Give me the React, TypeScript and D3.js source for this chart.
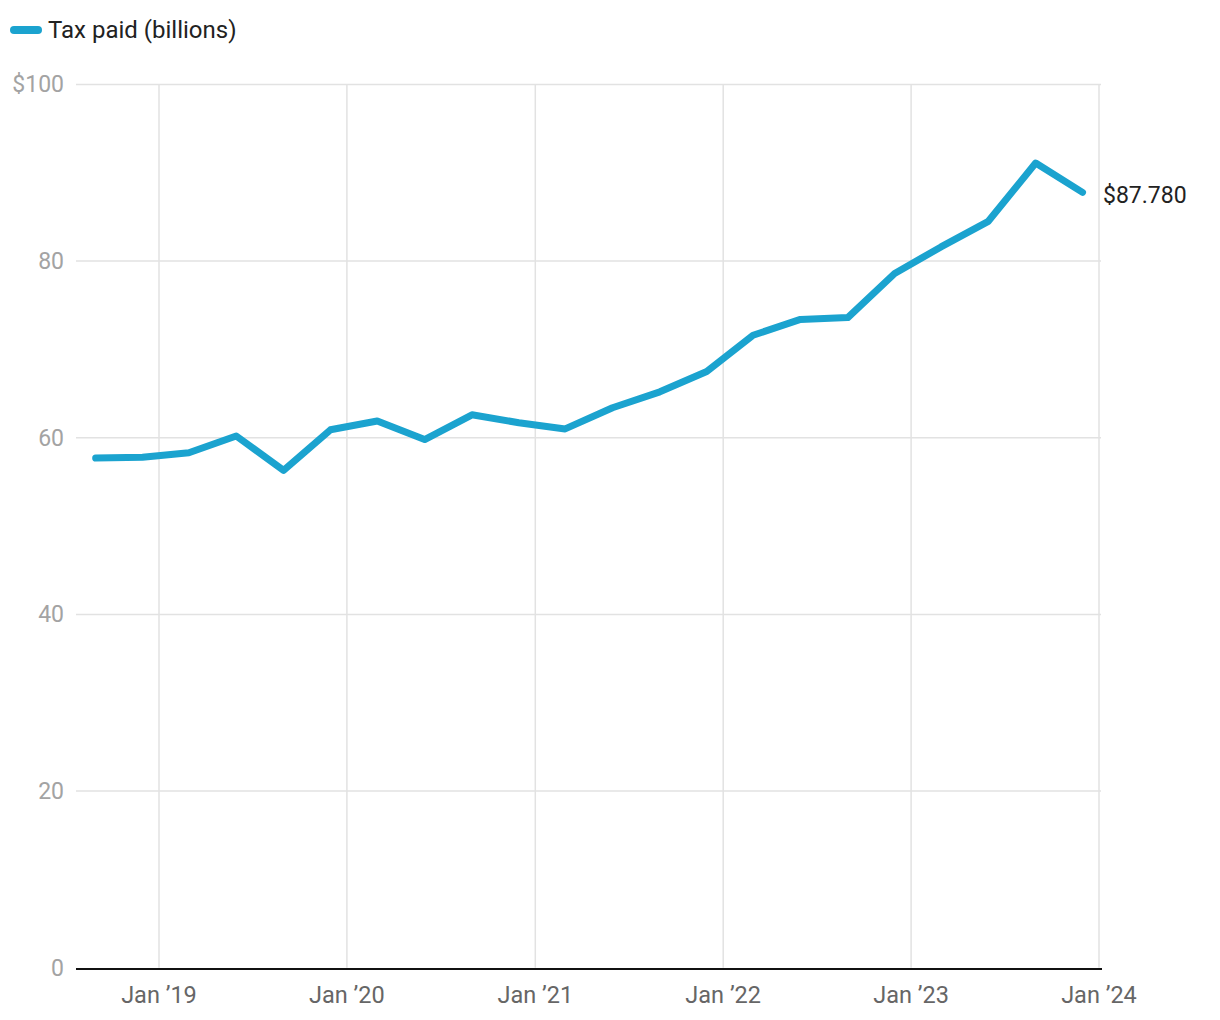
import React from "react";
import * as d3 from "d3";

const dates: string[] = [
  "2018-08-31", "2018-11-30", "2019-02-28", "2019-05-31",
  "2019-08-31", "2019-11-30", "2020-02-29", "2020-05-31",
  "2020-08-31", "2020-11-30", "2021-02-28", "2021-05-31",
  "2021-08-31", "2021-11-30", "2022-02-28", "2022-05-31",
  "2022-08-31", "2022-11-30", "2023-02-28", "2023-05-31",
  "2023-08-31", "2023-11-30",
];
const taxPaid: number[] = [
  57.7, 57.8, 58.3, 60.2, 56.3, 60.9, 61.9, 59.8,
  62.6, 61.7, 61.0, 63.4, 65.2, 67.5, 71.6, 73.4,
  73.6, 78.6, 81.6, 84.5, 91.1, 87.78,
];
const yTicks: number[] = [0, 20, 40, 60, 80, 100];
const xTickDates: string[] = ["2019-01-01", "2020-01-01", "2021-01-01", "2022-01-01", "2023-01-01", "2024-01-01"];
const seriesName = "Tax paid (billions)";
const lastLabel = "$87.780";

const FONT = "Roboto, 'Noto Sans', sans-serif";
const COLOR = "#1ba3cf";

export default function App() {
  const W = 1220, H = 1020;
  const left = 76, right = 1100, top = 84.4, bottom = 967.8;
  const parse = d3.utcParse("%Y-%m-%d");
  const x = d3.scaleUtc()
    .domain([parse("2019-01-01")!, parse("2024-01-01")!])
    .range([159, 1099]);
  const y = d3.scaleLinear().domain([0, 100]).range([bottom, top]);
  const pts = dates.map((d, i) => ({ d: parse(d)!, v: taxPaid[i] }));
  const line = d3.line<{ d: Date; v: number }>()
    .x((p) => x(p.d))
    .y((p) => y(p.v));
  const last = pts[pts.length - 1];
  const fmtTick = (d: Date) => "Jan \u2019" + d3.utcFormat("%y")(d);

  return (
    <svg width={W} height={H} style={{ position: "absolute", left: 0, top: 0, background: "#fff" }}>
      {/* legend */}
      <line x1={14} x2={38} y1={30} y2={30} stroke={COLOR} strokeWidth={8} strokeLinecap="round" />
      <text x={48} y={38} fontFamily={FONT} fontSize={24} fill="#222">{seriesName}</text>

      {/* horizontal gridlines */}
      {yTicks.map((t) => (
        <g key={"y" + t}>
          {t !== 0 && (
            <line x1={left} x2={right + 1} y1={y(t)} y2={y(t)} stroke="#e2e2e2" strokeWidth={1.5} />
          )}
          <text x={64} y={y(t)} dy="0.35em" textAnchor="end" fontFamily={FONT} fontSize={23} fill="#a3a3a3">
            {t === 100 ? "$100" : String(t)}
          </text>
        </g>
      ))}

      {/* vertical gridlines + x labels */}
      {xTickDates.map((s) => {
        const d = parse(s)!;
        return (
          <g key={s}>
            <line x1={x(d)} x2={x(d)} y1={top} y2={bottom} stroke="#e2e2e2" strokeWidth={1.5} />
            <text x={x(d)} y={1003} textAnchor="middle" fontFamily={FONT} fontSize={23.5} fill="#666">
              {fmtTick(d)}
            </text>
          </g>
        );
      })}

      {/* baseline axis */}
      <line x1={left} x2={right + 2} y1={969} y2={969} stroke="#111" strokeWidth={2} />

      {/* series */}
      <path d={line(pts) ?? ""} fill="none" stroke={COLOR} strokeWidth={7} strokeLinejoin="round" strokeLinecap="round" />

      {/* end label */}
      <text x={1103} y={y(last.v)} dy="0.45em" fontFamily={FONT} fontSize={23} fill="#222">{lastLabel}</text>
    </svg>
  );
}
